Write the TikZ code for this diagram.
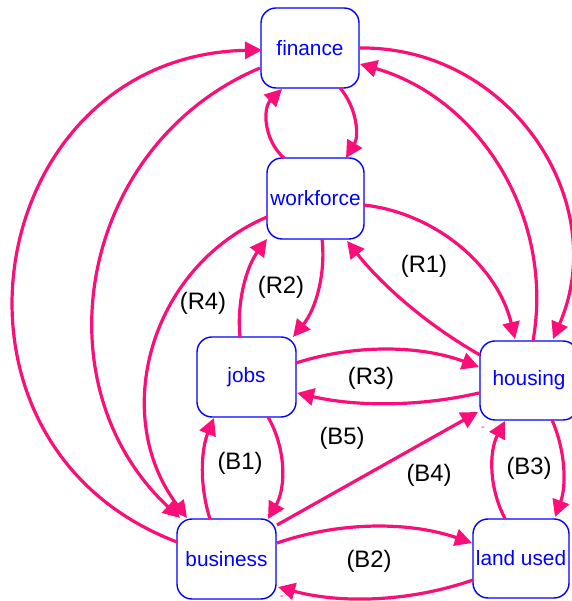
\documentclass[tikz,border=0pt]{standalone}
\usepackage{fontspec}
\setmainfont{Liberation Sans}
\usetikzlibrary{arrows.meta}
\definecolor{linkpink}{RGB}{250,15,120}
\definecolor{boxblue}{RGB}{0,0,255}
\tikzset{
  var/.style={draw=boxblue, line width=1.4pt, rounded corners=15pt, minimum width=98pt, minimum height=80pt, inner sep=0pt, text=boxblue, font=\fontsize{20.8}{24}\selectfont},
  cl/.style={draw=linkpink, line width=3.2pt, -{Triangle[length=17pt,width=17pt]}},
  looplabel/.style={text=black, font=\fontsize{23.8}{28}\selectfont, inner sep=0pt},
  pol/.style={text=linkpink, font=\fontsize{11}{11}\selectfont, inner sep=0pt}
}
\begin{document}
\begin{tikzpicture}[x=1pt,y=1pt]
\useasboundingbox (0,0) rectangle (571,601);
\fill[white] (0,0) rectangle (571,601);
% variables
\node[var] (finance) at (310,553) {finance};
\node[var, minimum width=97pt, minimum height=81pt] (workforce) at (315.5,402.5) {workforce};
\node[var, minimum width=99pt] (jobs) at (246.5,224) {jobs};
\node[var, minimum height=79pt] (housing) at (529,220.5) {housing};
\node[var, minimum width=99pt] (business) at (226.5,42) {business};
\node[var, minimum width=96pt, minimum height=79pt] (land) at (521,42.5) {land used};
% links
\draw[cl] ([shift={(-49.5,17)}]business.center) to[bend left=79, looseness=1.43] ([shift={(-48,-2)}]finance.center);
\draw[cl] ([shift={(-50,-20)}]finance.center) to[bend right=57, looseness=1.10] ([shift={(-46.5,41)}]business.center);
\draw[cl] ([shift={(-48.5,-18.5)}]workforce.center) to[bend right=52, looseness=1.054] ([shift={(-39.5,41)}]business.center);
\draw[cl] ([shift={(-31.5,40.5)}]workforce.center) to[bend left=47, looseness=1.01] ([shift={(-28,-41)}]finance.center);
\draw[cl] ([shift={(30,-40)}]finance.center) to[bend left=36, looseness=0.94] ([shift={(30.5,40.5)}]workforce.center);
\draw[cl] ([shift={(50,0)}]finance.center) to[bend left=57, looseness=1.10] ([shift={(24,41.5)}]housing.center);
\draw[cl] ([shift={(4,39.5)}]housing.center) to[bend right=42, looseness=0.977] ([shift={(50,-16)}]finance.center);
\draw[cl] ([shift={(48.5,-6.5)}]workforce.center) to[bend left=35, looseness=0.936] ([shift={(-14,41.5)}]housing.center);
\draw[cl] ([shift={(-49,25.5)}]housing.center) to[bend left=11, looseness=0.86] ([shift={(31.5,-42.5)}]workforce.center);
\draw[cl] ([shift={(6.5,-40.5)}]workforce.center) to[bend left=23, looseness=0.887] ([shift={(46.5,40)}]jobs.center);
\draw[cl] ([shift={(-6.5,40)}]jobs.center) to[bend left=21, looseness=0.88] ([shift={(-48.5,-40.5)}]workforce.center);
\draw[cl] ([shift={(49.5,14)}]jobs.center) to[bend left=19, looseness=0.875] ([shift={(-50,13.5)}]housing.center);
\draw[cl] ([shift={(-50,-12.5)}]housing.center) to[bend left=13, looseness=0.862] ([shift={(50.5,-16)}]jobs.center);
\draw[cl] ([shift={(21.5,-40)}]jobs.center) to[bend left=30, looseness=0.912] ([shift={(41.5,40)}]business.center);
\draw[cl] ([shift={(-16.5,40)}]business.center) to[bend left=20, looseness=0.878] ([shift={(-32.5,-41)}]jobs.center);
\draw[cl] ([shift={(50.5,34)}]business.center) -- ([shift={(-51,-31.5)}]housing.center);
\draw[cl] ([shift={(50.5,16)}]business.center) to[bend left=19, looseness=0.875] ([shift={(-49,15.5)}]land.center);
\draw[cl] ([shift={(-48,-21.5)}]land.center) to[bend left=17, looseness=0.871] ([shift={(51.5,-28)}]business.center);
\draw[cl] ([shift={(23,-39.5)}]housing.center) to[bend left=22, looseness=0.883] ([shift={(34,41.5)}]land.center);
\draw[cl] ([shift={(-16,40)}]land.center) to[bend left=28, looseness=0.904] ([shift={(-24,-40.5)}]housing.center);
% loop labels
\node[looplabel] (r1) at (424,335) {(R1)};
\node[looplabel] (r2) at (281,314) {(R2)};
\node[looplabel] (r3) at (371,223) {(R3)};
\node[looplabel] (r4) at (203,298) {(R4)};
\node[looplabel] (b1) at (240,138) {(B1)};
\node[looplabel] (b5) at (342,163) {(B5)};
\node[looplabel] (b4) at (429,126) {(B4)};
\node[looplabel] (b3) at (529,133) {(B3)};
\node[looplabel] (b2) at (369,40) {(B2)};
% polarity marks
\node[pol] (p1) at (281,88) {-};
\node[pol] (p2) at (483,172) {-};
\node[pol] (p3) at (282,3) {-};
\end{tikzpicture}
\end{document}
